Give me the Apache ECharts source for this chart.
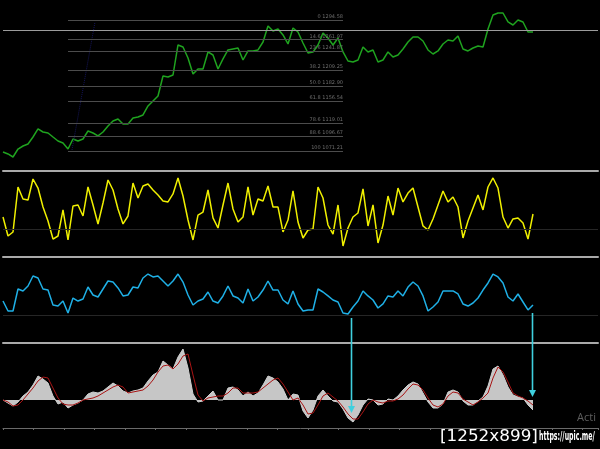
<!DOCTYPE html>
<html>
<head>
<meta charset="utf-8">
<script src="https://cdn.jsdelivr.net/npm/echarts@6/dist/echarts.min.js"></script>
<style>
html,body{margin:0;padding:0;background:#000;}
#c{width:600px;height:449px;}
</style>
</head>
<body>
<div id="c"></div>
<script>
// ---- data (bar index 0..106) ----
const price = [1069.5,1066.1,1060.9,1074.6,1079.8,1083.2,1095.2,1109.0,1103.8,1102.1,
1095.2,1088.4,1085.0,1074.6,1091.8,1088.4,1091.8,1105.5,1102.1,1097.0,
1103.8,1114.1,1122.7,1126.1,1117.5,1117.5,1127.8,1129.5,1133.0,1148.4,
1157.0,1165.5,1199.8,1198.1,1201.5,1253.0,1249.5,1230.7,1203.2,1211.8,
1211.8,1241.0,1235.8,1211.8,1229.0,1244.4,1246.1,1247.8,1227.2,1242.7,
1242.7,1244.4,1258.1,1285.5,1277.0,1280.4,1270.1,1254.7,1282.1,1275.2,
1256.4,1239.2,1241.0,1253.0,1273.5,1265.0,1253.0,1265.0,1241.0,1225.5,
1223.8,1227.2,1249.5,1241.0,1244.4,1223.8,1227.2,1241.0,1232.4,1235.8,
1246.1,1258.1,1266.7,1266.7,1259.8,1244.4,1237.5,1242.7,1254.7,1261.5,
1259.8,1268.4,1246.1,1242.7,1247.8,1251.2,1249.5,1280.4,1304.4,1307.8,
1307.8,1292.4,1287.2,1295.8,1292.4,1275.2,1275.2];

const osc1 = [46.5,24.4,29.1,81.4,67.5,66.3,90.7,80.2,58.1,41.9,
20.9,24.4,54.7,19.8,59.3,60.5,47.7,81.4,60.5,38.4,
62.8,89.5,77.9,55.8,38.4,47.7,86.0,68.6,82.6,84.9,
77.9,72.1,65.1,64.0,73.3,91.9,70.9,43.0,19.8,48.8,
52.3,77.9,45.4,33.7,60.5,86.0,55.8,40.7,46.5,81.4,
48.8,67.5,65.1,82.6,58.1,58.1,29.1,43.0,76.8,40.7,
22.1,31.4,32.6,81.4,68.6,37.2,26.7,60.5,12.8,33.7,
46.5,51.2,79.1,36.1,60.5,16.3,37.2,70.9,48.8,80.2,
64.0,74.4,80.2,58.1,36.1,31.4,44.2,60.5,76.8,64.0,
69.8,58.1,22.1,41.9,57.0,72.1,54.7,81.4,91.9,80.2,
46.5,33.7,44.2,45.4,39.5,20.9,50.0];

const osc2 = [48.8,37.2,37.2,62.8,60.5,66.3,77.9,75.6,62.8,61.6,
44.2,43.0,48.8,34.9,52.3,48.8,51.2,65.1,55.8,53.5,
62.8,72.1,70.9,64.0,54.7,55.8,65.1,64.0,75.6,80.2,
76.8,77.9,72.1,66.3,72.1,80.2,70.9,55.8,44.2,48.8,
51.2,59.3,48.8,46.5,54.7,66.3,54.7,52.3,46.5,62.8,
48.8,53.5,61.6,72.1,61.6,61.6,50.0,45.4,60.5,45.4,
37.2,38.4,38.4,62.8,59.3,54.7,50.0,47.7,34.9,33.7,
41.9,48.8,60.5,54.7,50.0,40.7,45.4,54.7,53.5,60.5,
54.7,65.1,70.9,66.3,54.7,37.2,41.9,47.7,60.5,60.5,
60.5,57.0,45.4,43.0,46.5,52.3,61.6,69.8,80.2,76.8,
69.8,53.5,48.8,57.0,47.7,38.4,44.2];

const hist = [0,-0.3,-0.6,-0.2,0.4,0.8,1.5,2.4,2.1,1.7,
0.4,-0.4,-0.2,-0.8,-0.5,-0.3,0,0.6,0.8,0.7,
0.9,1.3,1.7,1.4,0.9,0.7,0.9,1.0,1.2,1.9,
2.5,2.8,3.9,3.5,3.1,4.3,5.1,3.2,0.6,-0.2,
-0.1,0.4,0.9,0,0,1.2,1.3,1.0,0.4,0.8,
0.4,0.7,1.5,2.4,2.2,1.8,1.1,0,0.6,0.5,
-1.1,-1.8,-1.0,0.4,1.0,0.4,-0.1,-0.2,-0.9,-1.8,
-2.2,-1.5,-0.5,0.1,0,-0.5,-0.4,0.1,0,0.4,
1.0,1.5,1.8,1.6,0.7,-0.2,-0.8,-0.8,-0.4,0.8,
1.0,0.8,-0.1,-0.5,-0.5,-0.1,0.3,1.4,3.1,3.4,
2.5,1.3,0.5,0.3,0.2,-0.5,-1.0];

const signal = [0,-0.2,-0.6,-0.5,0,0.6,1.2,1.9,2.3,2.2,
1.2,0.2,-0.4,-0.5,-0.5,-0.3,0,0.1,0.2,0.4,
0.7,1.0,1.3,1.5,1.3,0.7,0.8,0.9,1.0,1.4,
2.0,2.8,3.4,3.5,3.1,3.6,4.4,4.6,2.5,0.5,
-0.1,0.2,0.3,0.4,0.4,0.7,1.2,1.2,0.7,0.7,
0.7,0.8,1.2,1.6,2.0,2.2,1.6,0.8,0,0.2,
-0.5,-1.4,-1.3,-0.5,0.4,0.7,0.3,-0.1,-0.7,-1.4,
-1.9,-1.9,-1.2,-0.4,0,-0.2,-0.3,-0.1,-0.1,0.1,
0.5,1.1,1.6,1.5,1.0,0.2,-0.5,-0.7,-0.4,0.4,
0.8,0.7,0.1,-0.2,-0.5,-0.2,0.2,0.7,2.2,3.3,
2.8,1.8,0.7,0.4,0.2,-0.1,-0.5];

const fibLevels = ['0','14.6','23.6','38.2','50.0','61.8','78.6','88.6','100'];
const fibPrices = [1294.58,1261.97,1241.87,1209.25,1182.90,1156.54,1119.01,1096.67,1071.21];
const fibStart = 13, fibEnd = 68;
const bidPrice = 1277.8;
const trendLine = [[13.8,1072.9],[18.4,1292.4]];
const oscLevel = 32.6;
// arrows: bar index, start value on osc2 panel, end value on hist panel
const arrows = [[69.6,29.1,-1.3],[105.7,34.9,0.3]];

// ---- chart ----
const pairs = a => a.map((v,i)=>[i,v]);
const chart = echarts.init(document.getElementById('c'), null, {renderer:'canvas'});
const sepLine = {show:true, onZero:false, lineStyle:{color:'#a9a9a9', width:2}};
function xa(g, extra){
  return Object.assign({type:'value', gridIndex:g, min:0, max:119,
    axisLabel:{show:false}, axisTick:{show:false}, splitLine:{show:false},
    axisLine:{show:false, onZero:false}}, extra||{});
}
function ya(g, mn, mx){
  return {type:'value', gridIndex:g, min:mn, max:mx, show:false, splitLine:{show:false}};
}
const fibData = fibPrices.map((p,k)=>[
  {coord:[fibStart,p]},
  {coord:[fibEnd,p], label:{show:true, position:'insideEndTop', formatter: fibLevels[k]+' '+p.toFixed(2),
     color:'#6e6e6e', fontSize:5, fontFamily:'DejaVu Sans', distance:[0,1]}}
]);

chart.setOption({
  backgroundColor:'#000',
  animation:false,
  grid:[
    {left:3, right:2, top:0, height:165},
    {left:3, right:2, top:171, height:86},
    {left:3, right:2, top:257, height:86},
    {left:3, right:2, top:343, height:85}
  ],
  xAxis:[
    xa(0),
    xa(1,{position:'top', axisLine:sepLine}),
    xa(2,{position:'top', axisLine:sepLine}),
    xa(3,{position:'top', axisLine:sepLine}),
    xa(3,{position:'bottom', interval:6.1,
      axisLine:{show:true, onZero:false, lineStyle:{color:'#6a6a6a', width:1}},
      axisTick:{show:true, length:2, lineStyle:{color:'#6a6a6a'}}})
  ],
  yAxis:[
    ya(0,1047.21,1330.07),
    ya(1,0,100),
    ya(2,0,100),
    ya(3,-2.8,5.7)
  ],
  series:[
    {type:'line', xAxisIndex:0, yAxisIndex:0, data:pairs(price), symbol:'none',
     lineStyle:{color:'#1fa31f', width:1.5},
     markLine:{silent:true, symbol:['none','none'], animation:false,
       data:[
         {yAxis:bidPrice, lineStyle:{color:'#9c9c9c', width:1, type:'solid'}, label:{show:false}},
         [{coord:trendLine[0], lineStyle:{color:'#15155a', width:1, type:'dotted'}, label:{show:false}},{coord:trendLine[1]}]
       ].concat(fibData.map(d=>[Object.assign({lineStyle:{color:'#4c4c4c', width:1, type:'solid'}},d[0]), d[1]]))
     }},
    {type:'line', xAxisIndex:1, yAxisIndex:1, data:pairs(osc1), symbol:'none',
     lineStyle:{color:'#f0f000', width:1.5},
     markLine:{silent:true, symbol:['none','none'], label:{show:false},
       lineStyle:{color:'#262626', width:1, type:'solid'}, data:[{yAxis:oscLevel}]}},
    {type:'line', xAxisIndex:2, yAxisIndex:2, data:pairs(osc2), symbol:'none',
     lineStyle:{color:'#1fb0e6', width:1.5},
     markLine:{silent:true, symbol:['none','none'], label:{show:false},
       lineStyle:{color:'#262626', width:1, type:'solid'}, data:[{yAxis:oscLevel}]}},
    {type:'line', xAxisIndex:3, yAxisIndex:3, data:pairs(hist), symbol:'none',
     lineStyle:{color:'#cfcfcf', width:1}, areaStyle:{color:'#c6c6c6', opacity:1}},
    {type:'line', xAxisIndex:3, yAxisIndex:3, data:pairs(signal), symbol:'none',
     lineStyle:{color:'#a81414', width:1}}
  ]
});

const g = [];
arrows.forEach(a=>{
  const p1 = chart.convertToPixel({xAxisIndex:2, yAxisIndex:2}, [a[0], a[1]]);
  const p2 = chart.convertToPixel({xAxisIndex:3, yAxisIndex:3}, [a[0], a[2]]);
  const x = Math.round(p1[0]) + 0.5;
  g.push({type:'line', shape:{x1:x, y1:p1[1], x2:x, y2:p2[1]-5}, style:{stroke:'#3fd0de', lineWidth:1.6}, z:50});
  g.push({type:'polygon', shape:{points:[[x-3.5,p2[1]-7],[x+3.5,p2[1]-7],[x,p2[1]]]}, style:{fill:'#3fd0de'}, z:50});
});
g.push({type:'text', left:577, top:412, style:{text:'Acti', fill:'#5e5e5e', font:'11px "Open Sans"'}, z:60});
g.push({type:'text', left:440, top:429, style:{text:'[1252x899]', fill:'#ffffff', font:'16px "DejaVu Sans"'}, scaleX:1.05, z:60});
g.push({type:'text', left:539, top:431, style:{text:'https://upic.me/', fill:'#ffffff', font:'bold 12px "DejaVu Sans"'}, scaleX:0.52, z:60});
chart.setOption({graphic:g});
</script>
</body>
</html>
